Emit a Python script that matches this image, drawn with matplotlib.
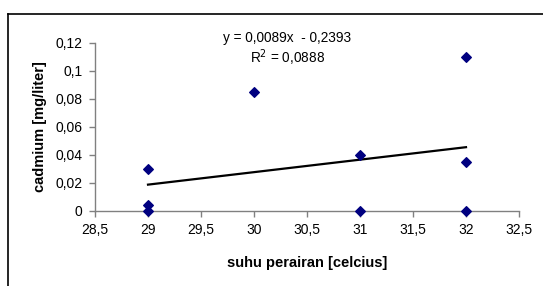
import matplotlib
matplotlib.use("Agg")
import matplotlib.pyplot as plt
import numpy as np

plt.rcParams['font.family'] = ['Liberation Sans', 'DejaVu Sans']

# observations
suhu = [29, 29, 29, 30, 31, 31, 32, 32, 32]
cadmium = [0.03, 0.004, 0.0, 0.085, 0.04, 0.0, 0.11, 0.035, 0.0]

# linear trend from the chart
slope = 0.0089
intercept = -0.2393
r2 = 0.0888

fig = plt.figure(figsize=(5.43, 2.86), dpi=100)

# outer chart border (only left and top visible in the crop)
fig.add_artist(plt.Line2D([8/543, 8/543], [0, 1 - 14/286], color='black', lw=1.2))
fig.add_artist(plt.Line2D([8/543, 1], [1 - 14/286, 1 - 14/286], color='black', lw=1.2))

ax = fig.add_axes([95/543, 1 - 211/286, 424/543, 168.3/286])

ax.scatter(suhu, cadmium, marker='D', s=24, color='#000080', zorder=3, clip_on=False)

xt = np.array([min(suhu), max(suhu)])
ax.plot(xt, slope * xt + intercept, color='black', lw=1.6, zorder=2)

ax.set_xlim(28.5, 32.5)
ax.set_ylim(0, 0.12)
ax.set_xticks(np.arange(28.5, 32.6, 0.5))
ax.set_yticks(np.arange(0, 0.121, 0.02))
ax.set_xticklabels([f"{v:g}".replace('.', ',') for v in np.arange(28.5, 32.6, 0.5)])
ax.set_yticklabels(['0'] + [f"{v:.2f}".replace('.', ',').rstrip('0') for v in np.arange(0.02, 0.121, 0.02)])

for s in ['top', 'right']:
    ax.spines[s].set_visible(False)
for s in ['left', 'bottom']:
    ax.spines[s].set_color('#808080')
    ax.spines[s].set_linewidth(1.0)
ax.tick_params(direction='out', length=4, width=1, color='#808080', labelsize=10, pad=5)

ax.set_xlabel('suhu perairan [celcius]', fontsize=10.5, fontweight='bold', labelpad=13)
ax.set_ylabel('cadmium [mg/liter]', fontsize=10.5, fontweight='bold', labelpad=6)

ax.text(0.453, 1.028, 'y = 0,0089x  - 0,2393', transform=ax.transAxes, ha='center', va='center', fontsize=9.8)
ax.text(0.453, 0.909, 'R$^2$ = 0,0888', transform=ax.transAxes, ha='center', va='center', fontsize=9.8)

fig.savefig('out.png', dpi=100)
